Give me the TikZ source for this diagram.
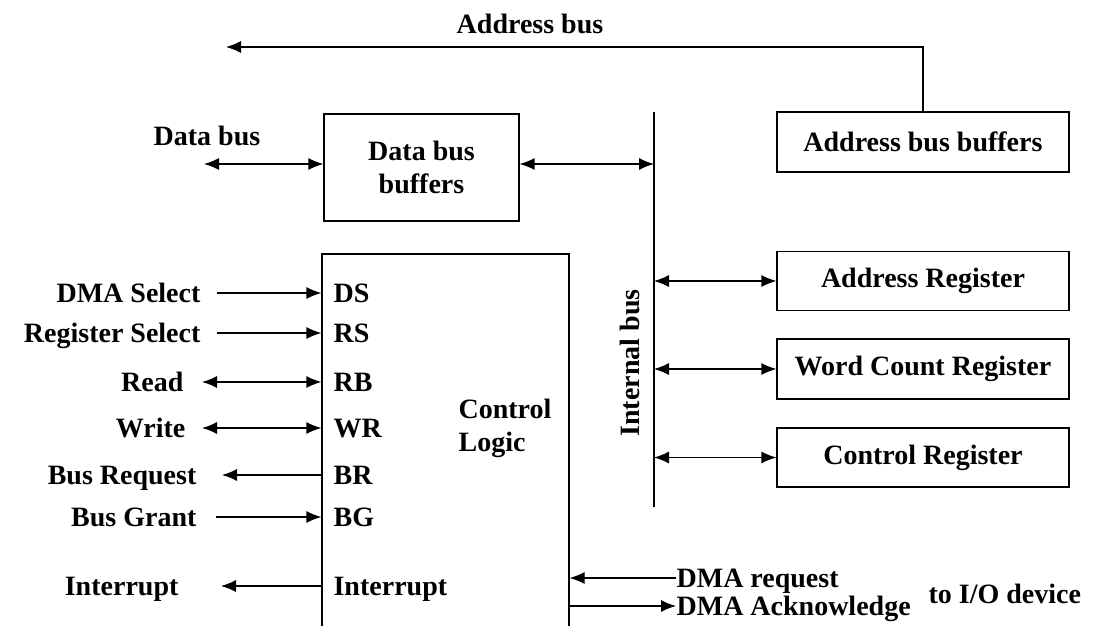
\documentclass[tikz,border=0pt]{standalone}
\usepackage{fontspec}
\setmainfont{Liberation Serif}
\usetikzlibrary{arrows.meta,positioning}
\tikzset{>={Latex[length=7.5pt,width=6pt]}}

\begin{document}
\begin{tikzpicture}[x=0.5pt,y=-0.5pt,line width=0.6pt,
	every node/.style={font=\fontsize{14}{16.5}\selectfont\bfseries},
	box/.style={draw,minimum width=146pt,minimum height=29.5pt},
	txt/.style={inner sep=0pt,text height=9.5pt,text depth=0pt}]
		\useasboundingbox (0,0) rectangle (1093,626);
		\clip (0,0) rectangle (1093,626);
		% buffers
		\node[draw,align=center,minimum width=97.5pt,minimum height=53.5pt] (dbuf) at (421.5,167.5) {Data bus\\buffers};
		\node[box,minimum height=30pt] (abuf) at (923,142) {Address bus buffers};
		% registers
		\node[box] (areg) at (923,281) {Address Register};
		\node[box,minimum height=30pt] (wreg) at (923,369) {Word Count Register};
		\node[box] (creg) at (923,457.5) {Control Register};
		% control logic
		\node[draw,minimum width=123.5pt,minimum height=223pt] (ctrl) at (445.5,477) {};
		\node[anchor=west,align=left,inner sep=0pt] (ctrllbl) at (458,428) {Control\\Logic};
		
		% internal bus
		\coordinate (ibtop) at (654,112);
		\coordinate (ibbot) at (654,507);
		\draw (ibtop) -- (ibbot);
		\node[rotate=90] (iblbl) at (630,363) {Internal bus};
		\foreach \r in {areg,wreg,creg}
			\draw[<->] (\r.west -| ibtop) -- (\r.west);
		
		% address bus
		\coordinate (abend) at (226,47);
		\node (ablbl) at (530,24) {Address bus};
		\draw[->] (abuf.north) |- (abend);
		
		% data bus
		\coordinate (dbend) at (204,164);
		\node[txt] (dblbl) at (207,136) {Data bus};
		\draw[<->] (dbend) -- (dbend -| dbuf.west);
		\draw[<->] (dbuf.east |- dbend) -- (dbend -| ibtop);
		
		% pins
		\foreach \y/\n/\t in {293/ds/DS,333/rs/RS,382/rb/RB,428/wr/WR,475/br/BR,517/bg/BG,586/int/Interrupt}
			\node[txt,anchor=west] (\n) at (333,\y) {\t};
		\node[txt,anchor=east] (dmasel) at (201,293) {DMA Select};
		\node[txt,anchor=east] (regsel) at (201,333) {Register Select};
		\node[txt,anchor=east] (rd) at (184,382) {Read};
		\node[txt,anchor=east] (wrt) at (186,428) {Write};
		\node[txt,anchor=east] (busreq) at (197,475) {Bus Request};
		\node[txt,anchor=east] (busgr) at (197,517) {Bus Grant};
		\node[txt,anchor=east] (intr) at (179,586) {Interrupt};
		\draw[->] ([xshift=8pt]dmasel.east) -- (dmasel -| ctrl.west);
		\draw[->] ([xshift=8pt]regsel.east) -- (regsel -| ctrl.west);
		\draw[<->] ([xshift=9pt]rd.east) -- (rd -| ctrl.west);
		\draw[<->] ([xshift=8pt]wrt.east) -- (wrt -| ctrl.west);
		\draw[<-] ([xshift=12.5pt]busreq.east) -- (busreq -| ctrl.west);
		\draw[->] ([xshift=9.5pt]busgr.east) -- (busgr -| ctrl.west);
		\draw[<-] ([xshift=21pt]intr.east) -- (intr -| ctrl.west);
		
		% I/O side
		\node[txt,anchor=west] (dmareq) at (676,578) {DMA request};
		\node[txt,anchor=west] (dmaack) at (676,606) {DMA Acknowledge};
		\node[txt,anchor=west] (iodev) at (928,594) {to I/O device};
		\draw[->] (dmareq.west) -- (dmareq -| ctrl.east);
		\draw[->] (dmaack -| ctrl.east) -- (dmaack.west);
\end{tikzpicture}
\end{document}
